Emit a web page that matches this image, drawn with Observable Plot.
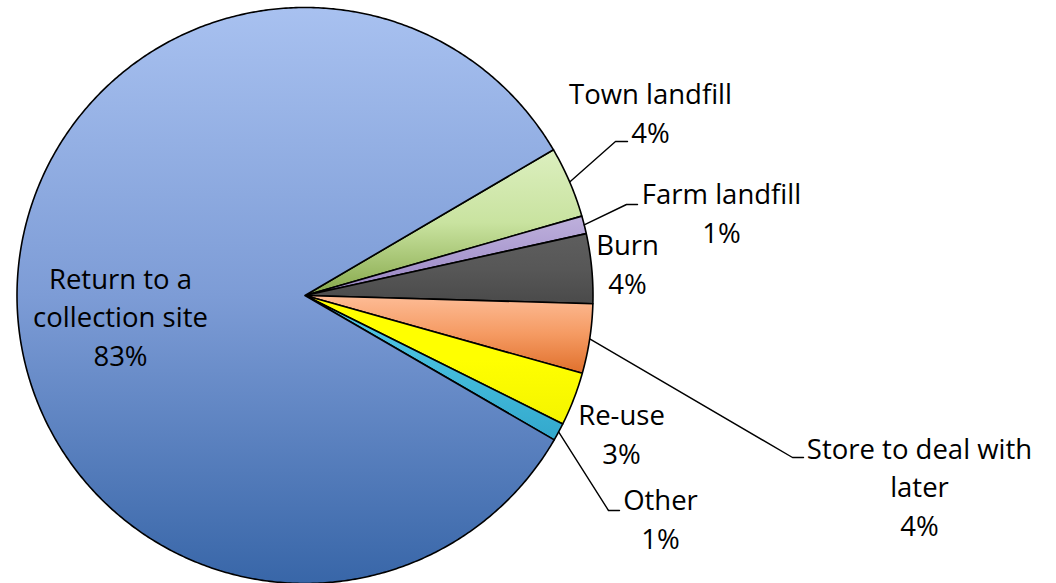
<!DOCTYPE html>
<html><head><meta charset="utf-8">
<script src="https://cdn.jsdelivr.net/npm/d3@7"></script>
<script src="https://cdn.jsdelivr.net/npm/@observablehq/plot@0.6"></script>
<style>body{margin:0;background:#fff;}</style>
</head><body><div id="chart"></div>
<script>
// ---- data ----
const categories = ["Town landfill", "Farm landfill", "Burn", "Store to deal with later", "Re-use", "Other", "Return to a collection site"];
const values = [4.0, 1.0, 3.9, 3.9, 3.0, 1.0, 83.2];
const labelNames = ["Town landfill", "Farm landfill", "Burn", "Store to deal with\nlater", "Re-use", "Other", "Return to a\ncollection site"];
const sliceGradients = [
  ["#dcefbf", "#c9e3a0", "#86a84a"],
  ["#beb0dc", "#ab9bd0", "#9682c0"],
  ["#5e5e5e", "#575757", "#4a4a4a"],
  ["#fdbc96", "#f59a62", "#e0702c"],
  ["#ffff00", "#ffff00", "#f4f400"],
  ["#55c8e4", "#44bcdc", "#33a8cc"],
  ["#a8c1f0", "#7d9cd6", "#3866a8"]
];

// ---- layout ----
const W = 1056, H = 583;
const CX = 304.5, CY = 295, R = 288, START = 30.4; // degrees from +x, slices run clockwise
const labelPos = [[650, 142], [721, 242], [627, 293], [919, 535], [621, 463], [660, 548], [120, 365]];
const leaderElbows = {0: [[615, 141], [627, 141]], 1: [[626, 204], [637, 204]], 3: [[792, 457], [803, 457]], 5: [[608, 510], [619, 510]]};

const total = d3.sum(values);
const pt = (deg, r) => [CX + r * Math.cos(deg * Math.PI / 180), CY - r * Math.sin(deg * Math.PI / 180)];

const slicePts = [];
const mids = [];
let a = START;
values.forEach((v, i) => {
  const span = v / total * 360;
  const a0 = a, a1 = a - span;
  slicePts.push({i, x: CX, y: CY});
  const n = Math.max(4, Math.ceil(span * 2));
  for (let k = 0; k <= n; k++) {
    const [x, y] = pt(a0 + (a1 - a0) * k / n, R);
    slicePts.push({i, x, y});
  }
  mids.push((a0 + a1) / 2);
  a = a1;
});

const labels = categories.map((c, i) => ({
  x: labelPos[i][0], y: labelPos[i][1],
  text: labelNames[i] + "\n" + Math.round(values[i]) + "%"
}));

const leaders = [];
Object.entries(leaderElbows).forEach(([k, pts]) => {
  const i = +k;
  const [x0, y0] = pt(mids[i], R);
  leaders.push({i, x: x0, y: y0});
  pts.forEach(([x, y]) => leaders.push({i, x, y}));
});

const FS = 27.5;
const plot = Plot.plot({
  width: W, height: H, margin: 0,
  x: {domain: [0, W], range: [0, W], axis: null},
  y: {domain: [0, H], range: [0, H], axis: null},
  color: {type: "identity"},
  style: {fontFamily: "'Open Sans', Lato, sans-serif", background: "white"},
  marks: [
    Plot.line(slicePts, {x: "x", y: "y", z: "i", curve: "linear-closed",
      fill: d => `url(#grad${d.i})`, stroke: "black", strokeWidth: 1.6, strokeLinejoin: "round"}),
    Plot.line(leaders, {x: "x", y: "y", z: "i", stroke: "black", strokeWidth: 1.4}),
    Plot.text(labels, {x: "x", y: "y", text: "text", fontSize: FS, lineAnchor: "bottom",
      lineHeight: 38.5 / FS, textAnchor: "middle", fill: "black"})
  ]
});

const svg = d3.select(plot);
const defs = svg.insert("defs", ":first-child");
sliceGradients.forEach((stops, i) => {
  const g = defs.append("linearGradient").attr("id", `grad${i}`)
    .attr("x1", 0).attr("y1", 0).attr("x2", 0).attr("y2", 1);
  stops.forEach((c, k) => g.append("stop").attr("offset", k / (stops.length - 1)).attr("stop-color", c));
});
document.getElementById("chart").appendChild(plot);
</script>
</body></html>
